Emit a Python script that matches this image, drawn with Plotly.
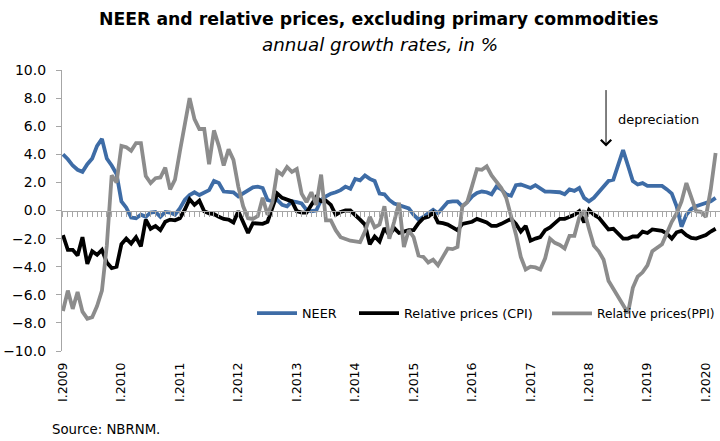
import plotly.graph_objects as go

ROMAN = ["I", "II", "III", "IV", "V", "VI", "VII", "VIII", "IX", "X", "XI", "XII"]
months = [f"{r}.{y}" for y in range(2009, 2021) for r in ROMAN][:135]
year_ticks = [f"I.{y}" for y in range(2009, 2021)]

neer = [4.0, 3.65, 3.2, 2.9, 2.75, 3.3, 3.7, 4.6, 5.1, 3.7, 3.2, 2.6,
        0.65, 0.2, -0.5, -0.55, -0.3, -0.45, -0.15, -0.1, -0.45, -0.1, -0.15, -0.3,
        0.15, 0.75, 1.1, 1.3, 1.1, 1.3, 1.45, 2.1, 1.95, 1.35, 1.35, 1.3,
        1.0, 1.2, 1.45, 1.65, 1.7, 1.6, 0.75, 0.65, 0.75, 0.4, 0.3, 0.65,
        0.6, 0.5, 0.05, -0.05, 0.0, 0.75, 1.0, 1.2, 1.3, 1.45, 1.7, 1.55,
        2.25, 2.15, 2.5, 2.25, 2.1, 1.2, 1.15, 0.75, 0.5, 0.4, 0.25, 0.15,
        -0.3, -0.65, -0.45, -0.2, 0.05, -0.2, 0.25, 0.6, 0.65, 0.65, 0.3, 0.6,
        1.0, 1.25, 1.35, 1.3, 1.15, 1.7, 1.5, 1.15, 1.05, 1.8, 1.85, 1.75,
        1.6, 1.8, 1.55, 1.35, 1.35, 1.35, 1.3, 1.15, 1.5, 1.4, 1.6, 0.9,
        0.65, 0.9, 1.3, 1.7, 2.1, 2.2, 3.2, 4.3, 3.2, 2.1, 1.85, 1.95,
        1.75, 1.75, 1.75, 1.75, 1.5, 1.2, 0.3, -1.15, -0.3, 0.1, 0.3, 0.4,
        0.5, 0.65, 0.9]

cpi = [-1.75, -2.8, -2.8, -3.2, -1.9, -3.8, -2.9, -3.15, -2.8, -3.7, -4.1, -4.0,
       -2.4, -2.0, -2.35, -1.9, -2.55, -0.65, -1.3, -1.1, -1.4, -0.8, -0.65, -0.7,
       -0.55, 0.05, 0.8, 0.4, 0.7, -0.05, -0.2, -0.25, -0.45, -0.6, -0.65, -0.85,
       -0.05, -0.85, -1.6, -0.9, -0.9, -0.95, -0.8, 0.3, 1.2, 0.9, 0.75, 0.65,
       -0.05, -0.15, -0.15, 0.4, 0.95, 0.65, 0.7, 0.4, -0.3, -0.1, 0.0, 0.0,
       -0.3, -0.65, -1.0, -2.4, -1.85, -2.2, -1.25, -1.75, -1.25, -1.6, -1.5, -1.4,
       -1.4, -0.9, -0.55, -0.45, -0.15, -0.85, -0.9, -1.0, -1.2, -1.4, -0.95, -0.9,
       -0.8, -0.6, -0.75, -0.85, -1.1, -1.1, -0.95, -0.75, -0.6, -0.95, -1.5, -1.1,
       -2.15, -2.0, -1.9, -1.4, -1.2, -0.9, -0.6, -0.6, -0.45, -0.3, -0.05, -0.85,
       0.05, -0.3, -0.5, -0.9, -1.35, -1.3, -1.65, -2.0, -2.0, -1.85, -1.85, -1.5,
       -1.6, -1.35, -1.4, -1.45, -1.65, -2.0, -1.55, -1.45, -1.75, -1.95, -2.0, -1.85,
       -1.75, -1.5, -1.3]

ppi = [-7.15, -5.7, -7.0, -5.8, -7.2, -7.7, -7.6, -6.8, -5.7, -2.5, 2.5, 2.0,
       4.6, 4.5, 4.25, 4.8, 4.8, 2.45, 1.95, 2.3, 2.35, 3.05, 1.5, 2.2,
       4.2, 6.0, 8.0, 6.5, 5.8, 5.8, 3.3, 5.7, 4.6, 3.2, 4.35, 3.6,
       1.7, 0.3, -0.55, -0.6, -0.4, 0.9, -0.3, 0.6, 2.8, 2.55, 3.1, 2.75,
       2.95, 1.2, 0.6, 1.3, 0.4, 2.55, -0.7, -0.7, -1.4, -1.9, -2.05, -2.15,
       -2.2, -2.25, -1.5, -0.45, -1.2, -1.0, 0.3, -2.0, -0.8, 0.55, -2.6, -1.4,
       -1.9, -3.2, -3.3, -3.7, -3.5, -3.9, -3.3, -2.7, -2.75, -2.6, 0.3, 0.6,
       1.75, 2.95, 2.9, 3.15, 2.5, 2.1, 1.6, 0.9, -0.3, -1.7, -3.3, -4.2,
       -4.0, -4.05, -4.2, -3.4, -2.0, -2.3, -2.45, -2.7, -1.8, -1.8, -0.5, 0.0,
       -1.3, -2.5, -2.9, -3.5, -5.0, -5.6, -6.2, -6.8, -7.3, -5.5, -4.7, -4.4,
       -3.9, -2.9, -2.65, -2.4, -1.6, -0.8, -0.2, 0.65, 1.95, 1.0, -0.05, -0.1,
       -0.45, 1.5, 4.1]

FONT = "DejaVu Sans"
BLUE = "#3E6CA6"
GREY = "#8C8C8C"
AXIS = "#A6A6A6"

fig = go.Figure()
fig.add_trace(go.Scatter(x=months, y=neer, mode="lines", name="NEER",
                         line=dict(color=BLUE, width=3.8), legend="legend"))
fig.add_trace(go.Scatter(x=months, y=cpi, mode="lines", name="Relative prices (CPI)",
                         line=dict(color="#000000", width=3.8), legend="legend2"))
fig.add_trace(go.Scatter(x=months, y=ppi, mode="lines", name="Relative prices(PPI)",
                         line=dict(color=GREY, width=3.8), legend="legend3"))
# helper trace to carry the bottom label axis
fig.add_trace(go.Scatter(x=[0, len(months) - 1], y=[None, None], xaxis="x2",
                         mode="lines", showlegend=False, hoverinfo="skip"))

xr = [-0.2, 134.9]
tickpos = [months.index(t) for t in year_ticks]
LEG_Y = 0.134
LEG_FONT = 12.8

fig.update_layout(
    width=720, height=441,
    margin=dict(l=62, r=0, t=70, b=90, autoexpand=False),
    paper_bgcolor="white", plot_bgcolor="white",
    font=dict(family=FONT, size=13, color="#000000"),
    showlegend=True,
    xaxis=dict(type="category", range=xr, anchor="free", position=0.5,
               showline=True, linecolor=AXIS, linewidth=1.3,
               ticks="outside", ticklen=5, tickcolor=AXIS, tickwidth=1,
               tickmode="array", tickvals=months, showticklabels=False,
               showgrid=False, zeroline=False, automargin=False),
    xaxis2=dict(type="linear", range=xr, overlaying="x", anchor="y", side="bottom",
                showline=False, ticks="", tickmode="array", tickvals=tickpos,
                ticktext=year_ticks, tickangle=-90, showgrid=False, zeroline=False,
                tickfont=dict(size=12.5), ticklabelstandoff=8, automargin=False),
    yaxis=dict(range=[-10, 10], tickmode="linear", dtick=2, tickformat=".1f",
               showline=True, linecolor=AXIS, linewidth=1.3,
               ticks="outside", ticklen=5, tickcolor=AXIS,
               showgrid=False, zeroline=False, ticklabelstandoff=7,
               tickfont=dict(size=14), automargin=False),
    legend=dict(orientation="h", x=(252 - 62) / 658, y=LEG_Y, xanchor="left", yanchor="middle",
                bgcolor="rgba(0,0,0,0)", font=dict(size=LEG_FONT), itemwidth=40),
    legend2=dict(orientation="h", x=(354 - 62) / 658, y=LEG_Y, xanchor="left", yanchor="middle",
                 bgcolor="rgba(0,0,0,0)", font=dict(size=LEG_FONT), itemwidth=40),
    legend3=dict(orientation="h", x=(547 - 62) / 658, y=LEG_Y, xanchor="left", yanchor="middle",
                 bgcolor="rgba(0,0,0,0)", font=dict(size=12.2), itemwidth=40),
    annotations=[
        dict(text="<b>NEER and relative prices, excluding primary commodities</b>",
             xref="paper", yref="paper", x=(379 - 62) / 658, y=1 + (70 - 19) / 281,
             xanchor="center", yanchor="middle", showarrow=False,
             font=dict(size=17.3, family=FONT)),
        dict(text="<i>annual growth rates, in %</i>",
             xref="paper", yref="paper", x=(380 - 62) / 658, y=1 + (70 - 44) / 281,
             xanchor="center", yanchor="middle", showarrow=False,
             font=dict(size=18.3, family=FONT)),
        dict(text="", x=111.5, y=4.55, xref="x", yref="y", showarrow=True,
             ax=0, ay=-58, arrowhead=4, arrowsize=2, arrowwidth=1, arrowcolor="#000000"),
        dict(text="depreciation", x=113.6, y=6.5, xref="x", yref="y",
             xanchor="left", yanchor="middle", showarrow=False,
             font=dict(size=13, family=FONT)),
        dict(text="Source: NBRNM.", xref="paper", yref="paper",
             x=(50 - 62) / 658, y=-(430 - 351) / 281, xanchor="left", yanchor="middle",
             showarrow=False, font=dict(size=13.3, family=FONT)),
    ],
)

fig.write_html("out.html", config={"displayModeBar": False},
               post_script="document.body.style.margin='0';document.body.style.overflow='hidden';")
